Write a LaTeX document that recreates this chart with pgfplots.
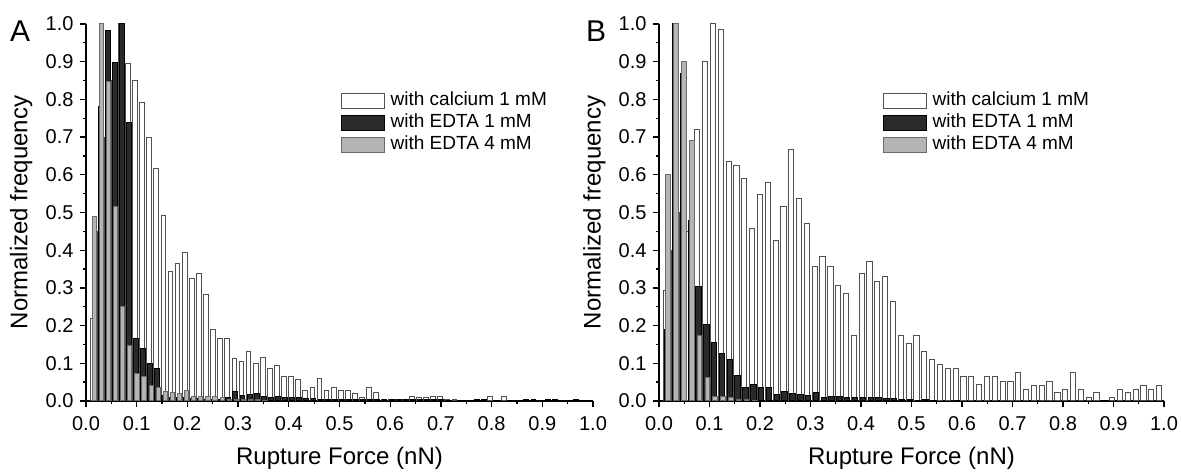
\documentclass[border=0pt]{standalone}
\usepackage{fontspec}
\setmainfont{Liberation Sans}
\usepackage{pgfplots}
\usepackage{pgfplotstable}
\pgfplotsset{compat=1.18}
\definecolor{barblack}{HTML}{2A2A2A}
\definecolor{bargray}{HTML}{B4B4B4}
\definecolor{edgegray}{HTML}{505050}
\definecolor{grayedge}{HTML}{6A6A6A}

\pgfplotstableread{
k w b g
1 0.22 0 0.49
2 0.45 0.78 1.00
3 0.70 0.984 0.847
4 0.85 0.897 0.515
5 1.00 1.00 0.25
6 0.896 0.738 0.148
7 0.851 0.165 0.074
8 0.792 0.139 0.066
9 0.70 0.099 0.040
10 0.617 0.086 0.035
11 0.493 0.015 0.024
12 0.344 0.010 0.022
13 0.365 0.010 0.020
14 0.394 0.008 0.027
15 0.325 0.006 0.012
16 0.338 0.006 0.012
17 0.282 0.005 0.012
18 0.189 0.005 0.012
19 0.165 0.005 0.010
20 0.165 0.008 0.005
21 0.114 0.024 0.004
22 0.105 0.015 0.003
23 0.130 0.018 0.003
24 0.100 0.020 0.003
25 0.116 0.013 0.002
26 0.085 0.010 0
27 0.095 0.012 0
28 0.066 0.010 0
29 0.066 0.008 0
30 0.056 0.008 0
31 0.029 0.006 0
32 0.036 0.006 0
33 0.060 0.005 0
34 0.029 0.005 0
35 0.036 0.005 0
36 0.029 0.004 0
37 0.029 0.004 0
38 0.020 0.003 0
39 0.010 0.003 0
40 0.036 0.003 0
41 0.023 0.003 0
42 0.005 0.003 0
43 0.003 0.003 0
44 0.003 0.003 0
45 0.003 0.003 0
46 0.013 0.003 0
47 0.009 0.003 0
48 0.010 0.003 0
49 0.013 0.003 0
50 0.013 0.003 0
51 0.004 0.002 0
52 0.003 0 0
53 0 0 0
54 0 0 0
55 0 0.004 0
56 0 0.004 0
57 0.013 0 0
58 0 0 0
59 0.013 0 0
60 0 0 0
61 0 0 0
62 0 0.004 0
63 0 0.004 0
64 0 0 0
65 0 0.004 0
66 0 0.004 0
67 0 0 0
68 0 0 0
69 0 0.004 0
}\dataA

\pgfplotstableread{
k w b g
1 0.294 0.19 0.60
2 0.40 1.00 1.00
3 0.50 0.87 0.90
4 0.45 0.48 0.69
5 0.72 0.303 0.175
6 0.90 0.203 0.062
7 1.00 0.155 0.011
8 0.986 0.126 0.013
9 0.634 0.110 0.010
10 0.625 0.068 0.005
11 0.590 0.035 0.003
12 0.458 0.044 0.002
13 0.548 0.035 0
14 0.580 0.037 0
15 0.427 0.018 0
16 0.515 0.024 0
17 0.668 0.021 0
18 0.537 0.018 0
19 0.470 0.015 0
20 0.357 0.022 0
21 0.382 0.009 0
22 0.357 0.011 0
23 0.307 0.011 0
24 0.285 0.010 0
25 0.175 0.008 0
26 0.339 0.008 0
27 0.371 0.008 0
28 0.317 0.008 0
29 0.329 0.007 0
30 0.263 0.006 0
31 0.175 0.004 0
32 0.152 0.004 0
33 0.175 0.002 0
34 0.131 0.004 0
35 0.109 0.002 0
36 0.097 0 0
37 0.087 0 0
38 0.087 0.002 0
39 0.065 0 0
40 0.065 0 0
41 0.044 0 0
42 0.065 0 0
43 0.065 0 0
44 0.053 0 0
45 0.053 0 0
46 0.075 0 0
47 0.031 0 0
48 0.042 0 0
49 0.042 0 0
50 0.053 0 0
51 0.022 0 0
52 0.031 0 0
53 0.075 0 0
54 0.031 0 0
55 0.009 0 0
56 0.022 0 0
57 0 0 0
58 0.009 0 0
59 0.031 0 0
60 0.022 0 0
61 0.031 0 0
62 0.042 0 0
63 0.031 0 0
64 0.040 0 0
}\dataB

\pgfplotsset{
  histaxis/.style={
    scale only axis, height=377pt,
    xmin=0, xmax=1, ymin=0, ymax=1,
    axis lines=left, axis line style={-, line width=1.4pt},
    tick align=outside,
    major tick length=6pt, minor tick length=3.5pt,
    tick style={black, line width=1.3pt},
    xtick distance=0.1, ytick distance=0.1,
    minor x tick num=1, minor y tick num=1,
    tick label style={/pgf/number format/fixed, /pgf/number format/fixed zerofill,
      /pgf/number format/precision=1, /pgf/number format/assume math mode=true,
      font=\fontsize{20}{23}\selectfont},
    xticklabel style={yshift=-6pt},
    yticklabel style={xshift=-3pt},
    label style={font=\fontsize{24}{28}\selectfont},
    xlabel={Rupture Force (nN)}, ylabel={Normalized frequency},
    xlabel style={at={(axis description cs:0.5,-0.152)}, anchor=center},
    ylabel style={at={(axis description cs:-0.128,0.5)}, anchor=center},
    legend style={draw=none, fill=none, anchor=north west,
      font=\fontsize{19}{22}\selectfont, row sep=0pt, column sep=0pt,
      nodes={inner sep=0pt, text height=15pt, text depth=7pt}},
    legend cell align=left,
  },
  mylegend/.style={legend image code/.code={
    \draw[##1, line width=1pt] (0.5pt,-7.5pt) rectangle (43.5pt,7.5pt);
    \path (49pt,0pt);}},
  histw/.style={ybar, fill=white, draw=edgegray, line width=1pt,
    restrict y to domain=0.0005:2, mylegend},
  histb/.style={ybar, fill=barblack, draw=black, line width=1pt,
    restrict y to domain=0.0005:2, mylegend},
  histg/.style={ybar, fill=bargray, draw=grayedge, line width=1pt,
    restrict y to domain=0.0005:2, mylegend},
}

\begin{document}
\begin{tikzpicture}
\useasboundingbox (0,0) rectangle (1181pt,473pt);
\begin{axis}[histaxis, width=507pt, at={(86pt,72pt)}, anchor=south west,
  legend style={at={(axis description cs:0.497,0.83)}}]
\addplot[histw, bar width=4.7pt, bar shift=-0.7pt] table[x expr=\thisrow{k}*0.014, y=w]{\dataA};
\addplot[histb, bar width=4.9pt, bar shift=0.35pt] table[x expr=\thisrow{k}*0.014, y=b]{\dataA};
\addplot[histg, bar width=4.2pt, bar shift=1.3pt] table[x expr=\thisrow{k}*0.014, y=g]{\dataA};
\legend{with calcium 1 mM, with EDTA 1 mM, with EDTA 4 mM}
\end{axis}
\begin{axis}[histaxis, width=505pt, at={(659pt,72pt)}, anchor=south west,
  legend style={at={(axis description cs:0.4376,0.83)}}]
\addplot[histw, bar width=5.2pt, bar shift=-0.8pt] table[x expr=\thisrow{k}*0.0155, y=w]{\dataB};
\addplot[histb, bar width=5.4pt, bar shift=0.4pt] table[x expr=\thisrow{k}*0.0155, y=b]{\dataB};
\addplot[histg, bar width=4.6pt, bar shift=1.4pt] table[x expr=\thisrow{k}*0.0155, y=g]{\dataB};
\legend{with calcium 1 mM, with EDTA 1 mM, with EDTA 4 mM}
\end{axis}
\node[font=\fontsize{30}{33}\selectfont, anchor=base west, inner sep=0pt] at (10pt,431pt) {A};
\node[font=\fontsize{30}{33}\selectfont, anchor=base west, inner sep=0pt] at (586pt,431pt) {B};
\end{tikzpicture}
\end{document}
